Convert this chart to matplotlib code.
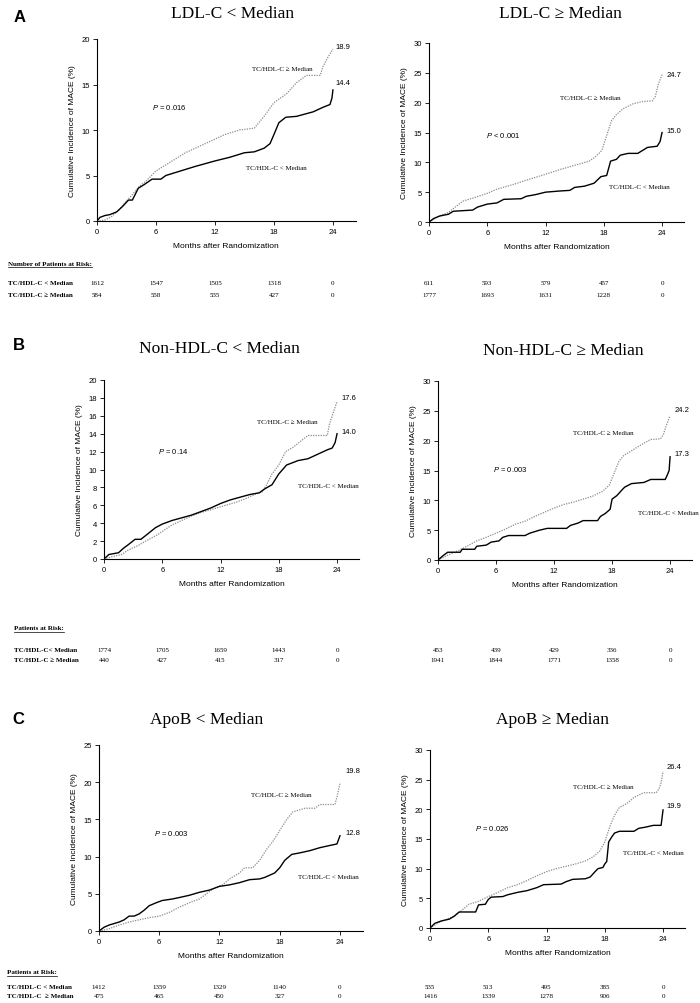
import matplotlib
matplotlib.use("Agg")
import matplotlib.pyplot as plt
from matplotlib.transforms import blended_transform_factory
from matplotlib.lines import Line2D

plt.rcParams['mathtext.fontset'] = 'custom'
plt.rcParams['mathtext.it'] = 'Liberation Sans:italic'
plt.rcParams['mathtext.rm'] = 'Liberation Sans'

SANS = ['Liberation Sans', 'DejaVu Sans']
SERIF = ['Liberation Serif', 'DejaVu Serif']

# ---- data (months, cumulative incidence %) ----
a_left_low_t = [0, 0.3, 0.8, 1.3, 2.0, 2.6, 3.2, 3.6, 4.2, 4.8, 5.6, 6.5, 7.0, 8.5, 10, 12, 13.5, 15, 16, 17, 17.6, 18, 18.5, 19.2, 20.3, 22, 23, 23.7, 23.9, 24]
a_left_low_y = [0, 0.4, 0.6, 0.7, 1.0, 1.6, 2.3, 2.3, 3.6, 4.0, 4.6, 4.6, 5.0, 5.5, 6.0, 6.6, 7.0, 7.5, 7.6, 8.0, 8.5, 9.5, 10.8, 11.4, 11.5, 12.0, 12.5, 12.8, 13.5, 14.4]
a_left_high_t = [0, 0.8, 1.5, 2.3, 3.0, 3.6, 4.3, 5.0, 6.0, 7.5, 9.0, 11.0, 13.0, 14.5, 16.0, 17.0, 18.0, 19.3, 20.3, 21.3, 22.7, 23.0, 23.5, 24]
a_left_high_y = [0, 0.1, 0.5, 1.3, 2.2, 2.9, 3.8, 4.4, 5.5, 6.5, 7.5, 8.5, 9.5, 10.0, 10.2, 11.5, 13.0, 14.0, 15.2, 16.0, 16.0, 17.0, 18.0, 18.9]

a_right_low_t = [0, 0.5, 1.1, 2.0, 2.5, 4.5, 5.0, 6.0, 7.0, 7.7, 9.5, 10.0, 11.0, 12.0, 13.5, 14.5, 15.0, 16.0, 17.0, 17.7, 18.3, 18.5, 18.7, 19.3, 19.7, 20.5, 21.5, 22.0, 22.5, 23.5, 23.8, 24]
a_right_low_y = [0, 0.6, 1.0, 1.3, 1.8, 2.0, 2.5, 3.0, 3.2, 3.8, 3.9, 4.3, 4.6, 5.0, 5.2, 5.3, 5.8, 6.0, 6.5, 7.6, 7.8, 9.0, 10.2, 10.5, 11.2, 11.5, 11.5, 12.0, 12.5, 12.7, 13.5, 15.0]
a_right_high_t = [0, 1, 2, 2.7, 3.5, 4.5, 6, 7, 8.5, 10, 12, 13.5, 15, 16.5, 17.2, 17.8, 18.3, 18.8, 19.3, 20, 21, 22, 23, 23.3, 23.6, 24]
a_right_high_y = [0, 1.0, 1.6, 2.5, 3.5, 4.0, 4.8, 5.5, 6.2, 7.0, 8.0, 8.8, 9.5, 10.2, 11.0, 12.0, 14.5, 17.0, 18.0, 19.0, 19.8, 20.2, 20.3, 21.0, 23.0, 24.7]

b_left_low_t = [0, 0.5, 1.5, 2.0, 2.5, 3.2, 3.8, 4.5, 5.3, 6, 7, 8, 9, 10, 11, 12, 13, 14, 15, 16, 16.5, 17.3, 18, 18.8, 20, 21, 22, 23, 23.5, 23.8, 24]
b_left_low_y = [0, 0.5, 0.7, 1.2, 1.6, 2.2, 2.2, 2.8, 3.5, 3.9, 4.3, 4.6, 4.9, 5.3, 5.7, 6.2, 6.6, 6.9, 7.2, 7.4, 7.8, 8.3, 9.5, 10.5, 11.0, 11.2, 11.7, 12.2, 12.4, 13.0, 14.0]
b_left_high_t = [0, 1, 1.8, 2.5, 3.5, 4.3, 5.5, 6.3, 7, 8, 9, 10, 11, 12.5, 13.5, 14.5, 15.5, 16.3, 16.7, 17.3, 18, 18.7, 19.5, 20.3, 21, 23, 23.2, 23.5, 24]
b_left_high_y = [0, 0.3, 0.5, 1.0, 1.5, 2.0, 2.7, 3.3, 3.8, 4.3, 4.8, 5.2, 5.5, 6.0, 6.3, 6.7, 7.2, 7.5, 8.2, 9.5, 10.5, 12.0, 12.5, 13.2, 13.8, 13.8, 15.0, 16.0, 17.6]

b_right_low_t = [0, 0.5, 1, 2.3, 2.5, 3.8, 4, 5, 5.5, 6.3, 6.7, 7.3, 9, 9.5, 10.5, 11.3, 13.3, 13.7, 14.5, 15, 16.5, 16.8, 17.3, 17.8, 18, 18.5, 19, 19.3, 20, 21.3, 22, 23.5, 23.7, 23.9, 24]
b_right_low_y = [0, 0.7, 1.3, 1.3, 1.8, 1.8, 2.3, 2.5, 3.0, 3.2, 3.8, 4.1, 4.1, 4.5, 5.0, 5.3, 5.3, 5.8, 6.2, 6.6, 6.6, 7.3, 7.8, 8.5, 10.2, 10.8, 11.7, 12.2, 12.8, 13.0, 13.5, 13.5, 14.2, 15.0, 17.3]
b_right_high_t = [0, 1, 2, 3, 4, 5, 6, 7, 8, 9, 10, 11, 12, 13, 14, 15, 16, 17, 17.7, 18.2, 18.7, 19.2, 20, 21, 22, 23, 23.3, 23.6, 24]
b_right_high_y = [0, 0.8, 1.5, 2.3, 3.2, 3.8, 4.5, 5.2, 6.0, 6.5, 7.3, 8.0, 8.7, 9.3, 9.7, 10.2, 10.7, 11.5, 12.5, 14.5, 16.5, 17.5, 18.3, 19.3, 20.2, 20.3, 21.0, 22.5, 24.2]

c_left_low_t = [0, 0.5, 1, 2, 2.5, 3, 3.5, 4, 4.5, 5, 5.7, 6.3, 7.3, 8, 9, 10, 11, 12, 13, 14, 15, 16, 16.5, 17.5, 18, 18.5, 19.2, 20, 21, 22, 23, 23.7, 24]
c_left_low_y = [0, 0.5, 0.8, 1.2, 1.5, 2.0, 2.0, 2.3, 2.8, 3.4, 3.8, 4.1, 4.3, 4.5, 4.8, 5.2, 5.5, 6.0, 6.2, 6.5, 6.9, 7.0, 7.2, 7.8, 8.5, 9.5, 10.3, 10.5, 10.8, 11.2, 11.5, 11.7, 12.8]
c_left_high_t = [0, 1, 2, 3, 4, 5, 6, 7, 8, 9, 10, 10.7, 11.5, 12.3, 13, 14, 14.5, 15.3, 16, 16.7, 17.3, 18, 18.7, 19.3, 20.5, 21.5, 22, 23.5, 23.7, 24]
c_left_high_y = [0, 0.3, 0.8, 1.2, 1.5, 1.8, 2.0, 2.5, 3.2, 3.8, 4.3, 5.0, 5.8, 6.2, 7.0, 7.8, 8.5, 8.5, 9.5, 11.0, 12.0, 13.5, 15.0, 16.0, 16.5, 16.5, 17.0, 17.0, 18.0, 19.8]

c_right_low_t = [0, 0.5, 1.2, 2, 2.5, 3, 4.7, 5, 5.7, 6, 6.3, 7.5, 8, 9, 10, 11, 11.7, 13.5, 14, 14.7, 16, 16.5, 17, 17.3, 17.8, 18, 18.2, 18.4, 18.7, 19, 19.5, 21, 21.5, 22.2, 23, 23.8, 24]
c_right_low_y = [0, 0.8, 1.2, 1.5, 2.0, 2.7, 2.7, 3.9, 4.0, 4.8, 5.2, 5.3, 5.6, 6.0, 6.3, 6.8, 7.3, 7.4, 7.8, 8.2, 8.3, 8.6, 9.5, 10.0, 10.2, 10.8, 11.2, 14.5, 15.3, 16.0, 16.3, 16.3, 16.8, 17.0, 17.3, 17.3, 19.9]
c_right_high_t = [0, 1, 2.5, 3.3, 4, 5, 6, 7, 8, 9, 10, 11, 12, 13, 14, 15, 16, 16.8, 17.5, 18, 18.5, 19, 19.5, 20.3, 21, 22, 23.3, 23.6, 23.8, 24]
c_right_high_y = [0, 1.0, 2.0, 3.0, 4.0, 4.5, 5.3, 6.0, 6.8, 7.3, 8.0, 8.8, 9.5, 10.0, 10.4, 10.8, 11.3, 12.0, 13.0, 14.5, 17.0, 19.0, 20.3, 21.0, 22.0, 22.8, 22.8, 23.5, 24.5, 26.4]

# numbers at risk at 0, 6, 12, 18, 24 months
risk_months = [0, 6, 12, 18, 24]
a_left_risk_low = [1612, 1547, 1505, 1318, 0]
a_left_risk_high = [584, 558, 535, 427, 0]
a_right_risk_low = [611, 593, 579, 457, 0]
a_right_risk_high = [1777, 1693, 1631, 1228, 0]
b_left_risk_low = [1774, 1705, 1659, 1443, 0]
b_left_risk_high = [440, 427, 415, 317, 0]
b_right_risk_low = [453, 439, 429, 336, 0]
b_right_risk_high = [1941, 1844, 1771, 1358, 0]
c_left_risk_low = [1412, 1359, 1329, 1140, 0]
c_left_risk_high = [475, 465, 450, 327, 0]
c_right_risk_low = [535, 513, 495, 385, 0]
c_right_risk_high = [1416, 1339, 1278, 906, 0]

titles = ['LDL-C < Median', 'LDL-C ≥ Median', 'Non-HDL-C < Median',
          'Non-HDL-C ≥ Median', 'ApoB < Median', 'ApoB ≥ Median']
p_values = ['$P$ = 0.016', '$P$ < 0.001', '$P$ = 0.14',
            '$P$ = 0.003', '$P$ = 0.003', '$P$ = 0.026']

W, H = 700, 1004
XMAX = 26.3
fig = plt.figure(figsize=(W / 100, H / 100), dpi=100)


def px_axes(left, y0, ytop, per_month):
    width = per_month * XMAX
    return fig.add_axes([left / W, 1 - y0 / H, width / W, (y0 - ytop) / H])


def draw_panel(ax, ymax, ystep, low_t, low_y, high_t, high_y, end_pos, hi_lab, p_lab, lo_lab, p_text):
    ax.plot(high_t, high_y, color='#8c8c8c', lw=0.9, ls=(0, (1, 1)))
    ax.plot(low_t, low_y, color='black', lw=1.0)
    ax.set_xlim(0, XMAX)
    ax.set_ylim(0, ymax)
    ax.set_xticks(risk_months)
    ax.set_yticks(range(0, ymax + 1, ystep))
    for s in ['top', 'right']:
        ax.spines[s].set_visible(False)
    for s in ['left', 'bottom']:
        ax.spines[s].set_linewidth(0.8)
    ax.tick_params(direction='out', length=3, width=0.6, pad=2, labelsize=5.5)
    for lab in ax.get_xticklabels() + ax.get_yticklabels():
        lab.set_family(SANS)
    ax.set_xlabel('Months after Randomization', family=SANS, fontsize=6, labelpad=5)
    ax.set_ylabel('Cumulative Incidence of MACE (%)', family=SANS, fontsize=6, labelpad=4)
    ax.text(end_pos[0], high_y[-1] + end_pos[1], f'{high_y[-1]:.1f}', family=SANS, fontsize=5.5, va='center')
    ax.text(end_pos[0], low_y[-1] + end_pos[2], f'{low_y[-1]:.1f}', family=SANS, fontsize=5.5, va='center')
    ax.text(hi_lab[0], hi_lab[1], 'TC/HDL-C ≥ Median', family=SERIF, fontsize=5, ha='center', va='center')
    ax.text(lo_lab[0], lo_lab[1], 'TC/HDL-C < Median', family=SERIF, fontsize=5, ha='center', va='center')
    ax.text(p_lab[0], p_lab[1], p_text, family=SANS, fontsize=5.5, ha='center', va='center')


def risk_rows(ax, y1, y2, low, high):
    tr = blended_transform_factory(ax.transData, fig.transFigure)
    for m, a, b in zip(risk_months, low, high):
        ax.text(m, 1 - y1 / H, str(a), transform=tr, family=SERIF, fontsize=5, ha='center', va='center')
        ax.text(m, 1 - y2 / H, str(b), transform=tr, family=SERIF, fontsize=5, ha='center', va='center')


# axes placement in pixels: left, y of zero, y of top, px per month
ax_al = px_axes(97, 222, 40, 9.83)
ax_ar = px_axes(429, 223, 44, 9.71)
ax_bl = px_axes(104, 560, 381, 9.71)
ax_br = px_axes(438, 561, 382, 9.67)
ax_cl = px_axes(99, 932, 746, 10.04)
ax_cr = px_axes(430, 929, 751, 9.71)

draw_panel(ax_al, 20, 5, a_left_low_t, a_left_low_y, a_left_high_t, a_left_high_y,
           (24.3, 0.3, 0.8), (18.9, 16.8), (7.4, 12.6), (18.2, 5.9), p_values[0])
draw_panel(ax_ar, 30, 5, a_right_low_t, a_right_low_y, a_right_high_t, a_right_high_y,
           (24.5, 0.1, 0.4), (16.6, 20.8), (7.6, 14.6), (21.7, 6.0), p_values[1])
draw_panel(ax_bl, 20, 2, b_left_low_t, b_left_low_y, b_left_high_t, b_left_high_y,
           (24.5, 0.5, 0.2), (18.9, 15.4), (7.1, 12.1), (23.1, 8.2), p_values[2])
draw_panel(ax_br, 30, 5, b_right_low_t, b_right_low_y, b_right_high_t, b_right_high_y,
           (24.5, 1.1, 0.6), (17.1, 21.4), (7.5, 15.4), (23.8, 8.0), p_values[3])
draw_panel(ax_cl, 25, 5, c_left_low_t, c_left_low_y, c_left_high_t, c_left_high_y,
           (24.5, 1.8, 0.5), (18.2, 18.3), (7.2, 13.2), (22.8, 7.3), p_values[4])
draw_panel(ax_cr, 30, 5, c_right_low_t, c_right_low_y, c_right_high_t, c_right_high_y,
           (24.4, 0.9, 0.8), (17.8, 23.9), (6.4, 16.9), (23.0, 12.8), p_values[5])

# titles and panel letters
title_pos = [(233, 14), (560, 14), (219, 349), (563, 351), (207, 720), (552, 720)]
for t, (x, y) in zip(titles, title_pos):
    fig.text(x / W, 1 - y / H, t, family=SERIF, fontsize=12.5, ha='center', va='center')
for letter, (x, y) in zip('ABC', [(20, 18), (19, 346), (18, 719)]):
    fig.text(x / W, 1 - y / H, letter, family=SANS, fontsize=12, weight='bold', ha='center', va='center')

# numbers at risk
headers = [('Number of Patients at Risk:', 8, 264, 283.5, 296,
            'TC/HDL-C < Median', 'TC/HDL-C ≥ Median', ax_al, ax_ar,
            (a_left_risk_low, a_left_risk_high), (a_right_risk_low, a_right_risk_high)),
           ('Patients at Risk:', 14, 629, 651, 661,
            'TC/HDL-C< Median', 'TC/HDL-C ≥ Median', ax_bl, ax_br,
            (b_left_risk_low, b_left_risk_high), (b_right_risk_low, b_right_risk_high)),
           ('Patients at Risk:', 7, 973, 988, 997,
            'TC/HDL-C < Median', 'TC/HDL-C  ≥ Median', ax_cl, ax_cr,
            (c_left_risk_low, c_left_risk_high), (c_right_risk_low, c_right_risk_high))]

renderer = fig.canvas.get_renderer()
for head, x, yh, y1, y2, lab1, lab2, axl, axr, left_risk, right_risk in headers:
    ht = fig.text(x / W, 1 - yh / H, head, family=SERIF, fontsize=5, weight='bold', va='center')
    bb = ht.get_window_extent(renderer)
    fig.add_artist(Line2D([bb.x0 / W, bb.x1 / W], [(H - yh - 4) / H] * 2, color='black', lw=0.5))
    fig.text(x / W, 1 - y1 / H, lab1, family=SERIF, fontsize=5, weight='bold', va='center')
    fig.text(x / W, 1 - y2 / H, lab2, family=SERIF, fontsize=5, weight='bold', va='center')
    risk_rows(axl, y1, y2, *left_risk)
    risk_rows(axr, y1, y2, *right_risk)

fig.savefig('out.png', dpi=100)
